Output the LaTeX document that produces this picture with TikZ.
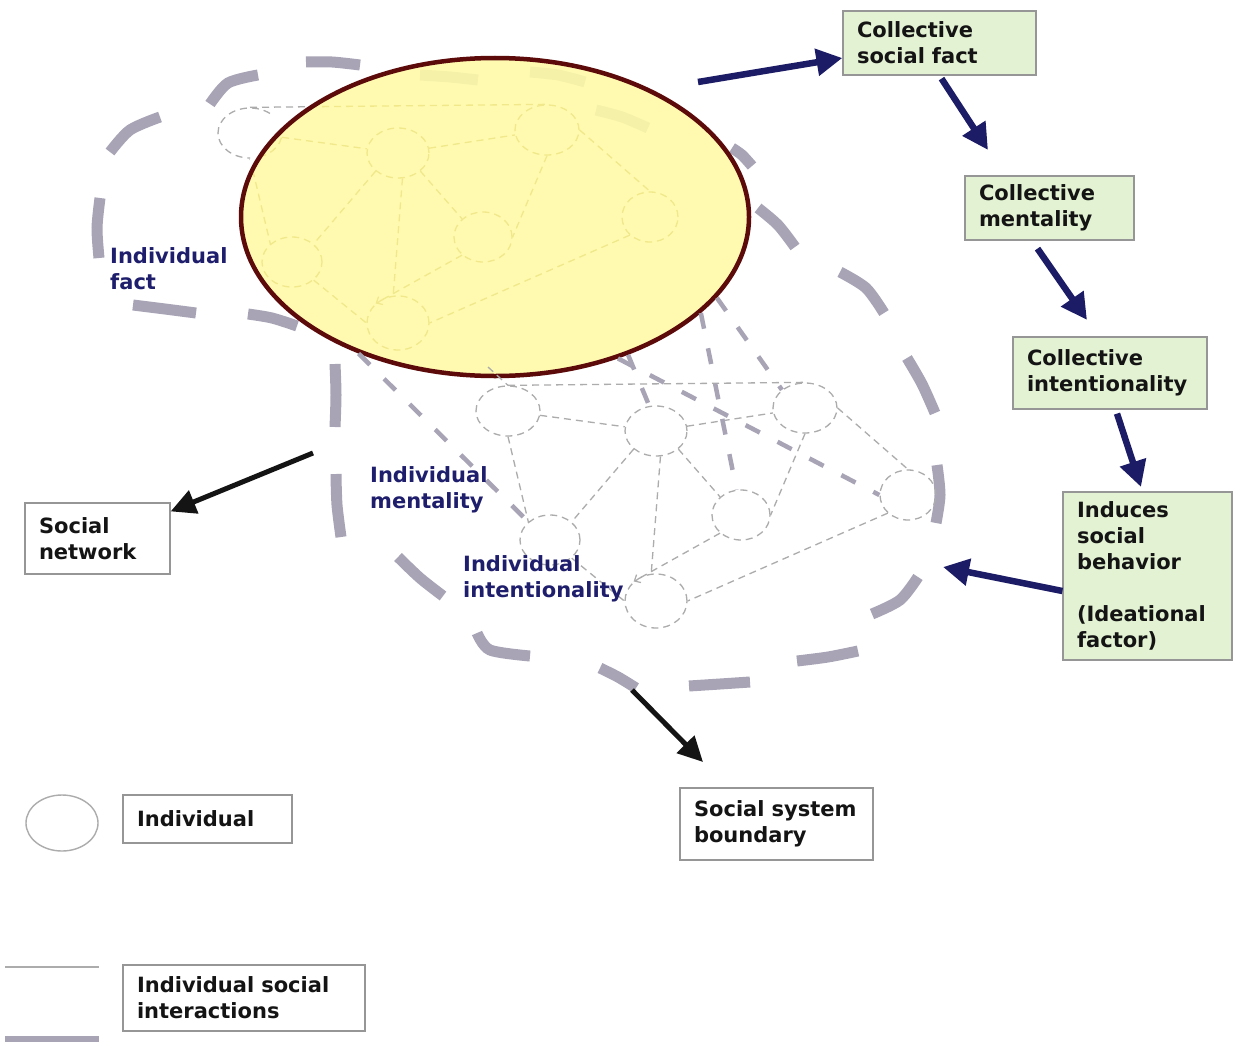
\documentclass[tikz,border=0pt]{standalone}
\usepackage{fontspec}
\setmainfont{DejaVu Sans}
\usetikzlibrary{arrows.meta,shapes.geometric}

\definecolor{navy}{RGB}{28,28,102}
\definecolor{labelblue}{RGB}{30,30,108}
\definecolor{boxgreen}{RGB}{226,242,210}
\definecolor{boxline}{RGB}{150,150,150}
\definecolor{bound}{RGB}{168,164,182}
\definecolor{netgray}{RGB}{172,172,172}
\definecolor{netyellow}{RGB}{240,232,138}
\definecolor{factfill}{RGB}{255,250,168}
\definecolor{factrim}{RGB}{92,10,10}
\colorlet{netline}{netgray}

\newcommand\labelfont{\fontsize{21}{26}\selectfont\bfseries}

% one social network: seven individuals and their interactions
\newcommand\socnet[1]{%
  \node[agent, minimum width=64pt, minimum height=50pt] (#1a) at (508,411) {};
  \node[agent, minimum width=62pt, minimum height=50pt] (#1b) at (656,431) {};
  \node[agent, minimum width=64pt, minimum height=50pt] (#1c) at (805,408) {};
  \node[agent, minimum width=60pt, minimum height=50pt] (#1d) at (550,540) {};
  \node[agent, minimum width=58pt, minimum height=50pt] (#1e) at (741,515) {};
  \node[agent, minimum width=56pt, minimum height=50pt] (#1f) at (908,495) {};
  \node[agent, minimum width=62pt, minimum height=54pt] (#1g) at (656,601) {};
  \draw[tie] (#1a.north) -- (#1c.north);
  \draw[tie] (#1a) -- (#1b);
  \draw[tie] (#1b) -- (#1c);
  \draw[tie] (#1c.east) -- (#1f.north);
  \draw[tie] (#1c.south) -- (#1e.east);
  \draw[tie] (#1b.south east) -- (#1e.north west);
  \draw[tie] (#1a.south) -- (#1d.north west);
  \draw[tie] (#1b.south west) -- (#1d.north east);
  \draw[tie] (#1b.-80) -- (#1g.100);
  \draw[tie] (#1d.south east) -- (#1g.west);
  \draw[tie,barb] (#1e.south west) -- (#1g.north west);
  \draw[tie] (#1f.south west) -- (#1g.east);
}

\begin{document}
\begin{tikzpicture}[x=1pt,y=-1pt,
  agent/.style={ellipse, inner sep=0pt, draw=netline, line width=1.3pt,
    dash pattern=on 7pt off 5pt},
  tie/.style={draw=netline, line width=1.3pt, dash pattern=on 7pt off 5pt},
  barb/.style={-{Straight Barb[length=5pt,width=9pt,line width=1.2pt]}},
  bnd/.style={draw=bound, line width=11pt, line cap=butt},
  proj/.style={draw=bound, line width=4.5pt, dash pattern=on 16pt off 20pt},
  lbl/.style={align=left, inner sep=0pt, text=labelblue, font=\labelfont},
  box/.style={rectangle, draw=boxline, line width=1.2pt, align=left,
    inner xsep=14pt, inner ysep=0pt, text=black!92, font=\labelfont},
  gbox/.style={box, fill=boxgreen},
  navyarrow/.style={draw=navy, line width=6.5pt,
    -{Triangle[length=26pt,width=26pt]}},
  blackarrow/.style={draw=black!92, line width=5pt,
    -{Triangle[length=25pt,width=24pt]}}]

\useasboundingbox (0,0) rectangle (1233,1041);
\fill[white] (0,0) rectangle (1233,1041);

% the same network seen from above; only its left edge shows beside the fact
\begin{scope}
  \clip (200,90) rectangle (250,160) (250,96) rectangle (330,114);
  \begin{scope}[shift={(-258,-278)}]
    \socnet{u}
  \end{scope}
\end{scope}

% social system boundary
\draw[bnd] plot[smooth] coordinates {(110,152) (130,130) (160,117)};
\draw[bnd] plot[smooth] coordinates {(210,104) (228,83) (258,75)};
\draw[bnd] plot[smooth] coordinates {(306,62) (332,62) (360,65)};
\draw[bnd] plot[smooth] coordinates {(420,75) (450,77) (478,80)};
\draw[bnd] plot[smooth] coordinates {(530,72) (558,75) (585,82)};
\draw[bnd] plot[smooth] coordinates {(596,110) (622,117) (648,128)};
\draw[bnd] plot[smooth] coordinates {(732,148) (742,155) (752,166)};
\draw[bnd] plot[smooth] coordinates {(758,208) (778,225) (795,247)};
\draw[bnd] plot[smooth] coordinates {(840,272) (866,288) (884,313)};
\draw[bnd] plot[smooth] coordinates {(907,358) (922,384) (935,413)};
\draw[bnd] plot[smooth] coordinates {(937,465) (940,495) (936,523)};
\draw[bnd] plot[smooth] coordinates {(918,577) (900,600) (872,614)};
\draw[bnd] plot[smooth] coordinates {(797,661) (828,657) (858,651)};
\draw[bnd] plot[smooth] coordinates {(689,686) (720,684) (750,682)};
\draw[bnd] plot[smooth] coordinates {(600,668) (618,677) (636,688)};
\draw[bnd] plot[smooth] coordinates {(477,633) (490,650) (530,656)};
\draw[bnd] plot[smooth] coordinates {(398,557) (420,578) (443,596)};
\draw[bnd] plot[smooth] coordinates {(336,474) (337,505) (341,537)};
\draw[bnd] plot[smooth] coordinates {(335,364) (336,395) (335,427)};
\draw[bnd] plot[smooth] coordinates {(248,314) (272,318) (297,326)};
\draw[bnd] plot[smooth] coordinates {(133,305) (165,309) (196,313)};
\draw[bnd] plot[smooth] coordinates {(100,198) (97,228) (99,258)};

% collective social fact
\fill[factfill, fill opacity=0.9] (495,217) ellipse [x radius=254, y radius=159];
\begin{scope}
  \clip (495,217) ellipse [x radius=254, y radius=159];
  \colorlet{netline}{netyellow}
  \begin{scope}[shift={(-258,-278)}]
    \socnet{y}
  \end{scope}
\end{scope}
\node[ellipse, draw=factrim, line width=4.5pt, inner sep=0pt,
  minimum width=508pt, minimum height=318pt] (fact) at (495,217) {};

% the individual level
\socnet{v}
\draw[tie] (488,367) -- (va.north);

% projections between the two levels
\draw[proj] (fact.225) -- (vd.north west);
\draw[proj] (fact.-46) -- (vb.105);
\draw[proj] (fact.-49) -- (vf.west);
\draw[proj] (fact.-25) -- (ve.100);
\draw[proj] (fact.-20) -- (vc.north west);

% level labels
\node[lbl, anchor=north west] (lfact) at (110,247) {Individual\\fact};
\node[lbl, anchor=north west] (lment) at (370,466) {Individual\\mentality};
\node[lbl, anchor=north west] (lint) at (463,555) {Individual\\intentionality};

% collective chain
\node[gbox, minimum width=193pt, minimum height=64pt, text width=165pt]
  (csf) at (939.5,43) {Collective\\social fact};
\node[gbox, minimum width=169pt, minimum height=64pt, text width=141pt]
  (cm) at (1049.5,208) {Collective\\mentality};
\node[gbox, minimum width=194pt, minimum height=72pt, text width=166pt]
  (ci) at (1110,373) {Collective\\intentionality};
\node[gbox, minimum width=169pt, minimum height=168pt, text width=141pt]
  (isb) at (1147.5,576) {Induces\\social\\behavior\\[26pt](Ideational\\factor)};

% explanatory boxes
\node[box, minimum width=145pt, minimum height=71pt, text width=117pt]
  (sn) at (97.5,538.5) {Social\\network};
\node[box, minimum width=193pt, minimum height=72pt, text width=165pt]
  (ssb) at (776.5,824) {Social system\\boundary};
\node[box, minimum width=169pt, minimum height=48pt, text width=141pt]
  (ind) at (207.5,819) {Individual};
\node[box, minimum width=242pt, minimum height=66pt, text width=214pt]
  (isi) at (244,998) {Individual social\\interactions};

% arrows of the collective chain
\coordinate (a1) at (698,82);
\coordinate (a2) at (988,150);
\coordinate (a3) at (1087,320);
\coordinate (a4) at (1141,487);
\coordinate (a5) at (943,567);
\draw[navyarrow] (a1) -- ([yshift=-15pt]csf.west);
\draw[navyarrow] ([xshift=2pt,yshift=-3pt]csf.south) -- (a2);
\draw[navyarrow] ([xshift=-12pt,yshift=-8pt]cm.south) -- (a3);
\draw[navyarrow] ([xshift=7pt,yshift=-4pt]ci.south) -- (a4);
\draw[navyarrow] ([yshift=-15pt]isb.west) -- (a5);

% pointer arrows
\coordinate (a6) at (313,453);
\coordinate (a7) at (632,690);
\coordinate (a7e) at (703,762);
\draw[blackarrow] (a6) -- ([yshift=-9pt]sn.north east);
\draw[blackarrow] (a7) -- (a7e);

% legend symbols
\node[ellipse, draw=netgray, line width=1.4pt, inner sep=0pt,
  minimum width=72pt, minimum height=56pt] (legind) at (62,823) {};
\coordinate (lt1) at (5,967);
\coordinate (lt2) at (99,967);
\draw[draw=netgray, line width=1.5pt] (lt1) -- (lt2);
\coordinate (lb1) at (5,1040);
\coordinate (lb2) at (99,1040);
\draw[bnd, line width=8pt] (lb1) -- (lb2);
\end{tikzpicture}
\end{document}
